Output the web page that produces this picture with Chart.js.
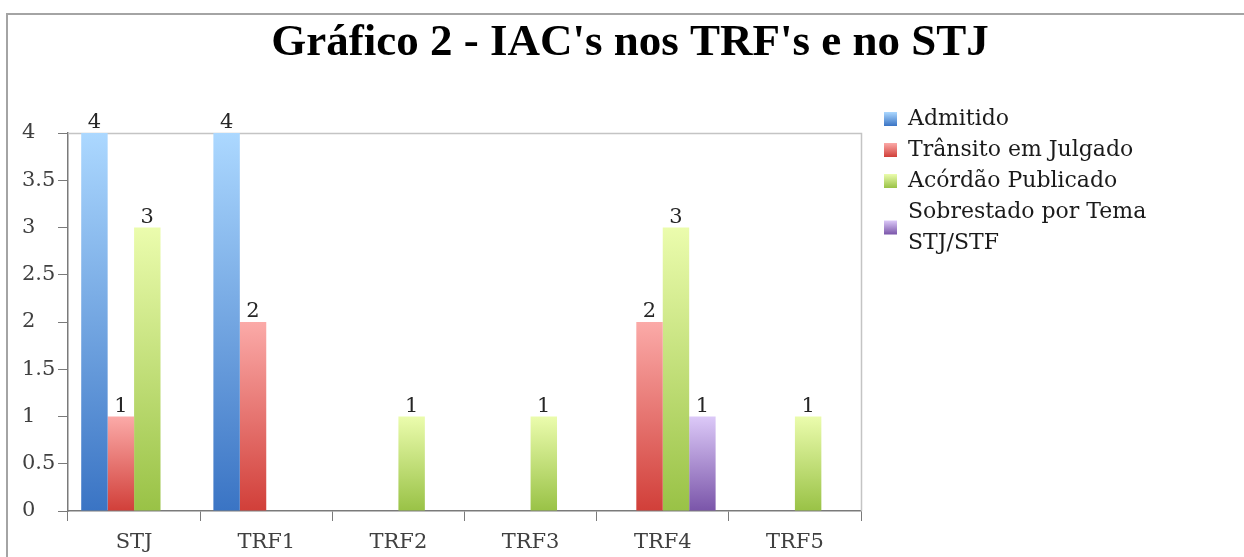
<!DOCTYPE html>
<html>
<head>
<meta charset="utf-8">
<title>Gráfico 2</title>
<script src="https://cdn.jsdelivr.net/npm/chart.js@4.4.1/dist/chart.umd.min.js"></script>
<style>
  body { margin: 0; background: #fff; }
  #wrap { position: relative; width: 1244px; height: 557px; overflow: hidden; }
  #frame { position: absolute; left: 6px; top: 13px; width: 1300px; height: 600px;
           border-top: 2px solid #a4a4a4; border-left: 2px solid #a4a4a4; }
  #box { position: absolute; left: 0; top: 0; width: 1244px; height: 557px; }
</style>
</head>
<body>
<div id="wrap">
  <div id="frame"></div>
  <div id="box"><canvas id="chart"></canvas></div>
</div>
<script>
const categories = ['STJ', 'TRF1', 'TRF2', 'TRF3', 'TRF4', 'TRF5'];
const admitido   = [4, 4, 0, 0, 0, 0];
const transito   = [1, 2, 0, 0, 2, 0];
const acordao    = [3, 0, 1, 1, 3, 1];
const sobrestado = [0, 0, 0, 0, 1, 0];
const seriesNames = ['Admitido', 'Trânsito em Julgado', 'Acórdão Publicado', ['Sobrestado por Tema', 'STJ/STF']];
const yTickLabels = ['0', '0.5', '1', '1.5', '2', '2.5', '3', '3.5', '4'];
const chartTitle = "Gráfico 2 - IAC's nos TRF's e no STJ";

// top / bottom colours of each bar's vertical gradient
const fills = [
  ['#acd8ff', '#3a74c4'],
  ['#fbaaa8', '#d13f39'],
  ['#ebfcad', '#99c246'],
  ['#dcc9f8', '#7a55a9']
];

const serif = '"DejaVu Serif", "Liberation Serif", serif';

function barFill(stops) {
  return (ctx) => {
    const y = ctx.chart.scales.y;
    const v = ctx.raw;
    if (!y || !v) return stops[1];
    const y0 = y.getPixelForValue(v);
    const y1 = y.getPixelForValue(0);
    if (!isFinite(y0) || !isFinite(y1) || y0 === y1) return stops[1];
    const g = ctx.chart.ctx.createLinearGradient(0, y0, 0, y1);
    g.addColorStop(0, stops[0]);
    g.addColorStop(1, stops[1]);
    return g;
  };
}

const extras = {
  id: 'extras',
  beforeDatasetsDraw(chart) {
    const { ctx, chartArea: a } = chart;
    ctx.save();
    ctx.strokeStyle = '#c4c4c4';
    ctx.lineWidth = 1.5;
    ctx.beginPath();
    ctx.moveTo(a.left, a.top + 0.5);
    ctx.lineTo(a.right + 0.5, a.top + 0.5);
    ctx.lineTo(a.right + 0.5, a.bottom);
    ctx.stroke();
    ctx.restore();
  },
  afterDraw(chart) {
    const ctx = chart.ctx;
    ctx.save();

    // title
    ctx.fillStyle = '#000';
    ctx.font = 'bold 45px "Liberation Serif", serif';
    ctx.textAlign = 'center';
    ctx.textBaseline = 'alphabetic';
    ctx.fillText(chartTitle, 630, 55);

    // value labels above each non-zero bar
    ctx.font = '21px ' + serif;
    ctx.fillStyle = '#262626';
    chart.data.datasets.forEach((ds, di) => {
      chart.getDatasetMeta(di).data.forEach((bar, i) => {
        if (!ds.data[i]) return;
        ctx.fillText(String(ds.data[i]), bar.x, bar.y - 5);
      });
    });

    // legend
    ctx.font = '22px ' + serif;
    ctx.textAlign = 'left';
    ctx.textBaseline = 'middle';
    let y = 119;
    seriesNames.forEach((name, si) => {
      const lines = Array.isArray(name) ? name : [name];
      const mid = y + (lines.length - 1) * 15.5;
      const g = ctx.createLinearGradient(0, mid - 7, 0, mid + 7);
      g.addColorStop(0, fills[si][0]);
      g.addColorStop(1, fills[si][1]);
      ctx.fillStyle = g;
      ctx.fillRect(884, mid - 7, 13, 14);
      ctx.fillStyle = '#1a1a1a';
      lines.forEach((ln, k) => ctx.fillText(ln, 908, y + k * 31));
      y += lines.length * 31;
    });
    ctx.restore();
  }
};

const seriesData = [admitido, transito, acordao, sobrestado];

new Chart(document.getElementById('chart'), {
  type: 'bar',
  data: {
    labels: categories,
    datasets: seriesData.map((d, i) => ({
      label: Array.isArray(seriesNames[i]) ? seriesNames[i].join(' ') : seriesNames[i],
      data: d,
      backgroundColor: barFill(fills[i]),
      borderWidth: 0,
      barPercentage: 1,
      categoryPercentage: 0.8
    }))
  },
  options: {
    responsive: true,
    maintainAspectRatio: false,
    animation: false,
    layout: { padding: { top: 133, right: 383, bottom: 0, left: 22 } },
    plugins: {
      legend: { display: false },
      title: { display: false },
      tooltip: { enabled: false }
    },
    scales: {
      x: {
        afterFit: (s) => { s.height = 46; },
        grid: { drawOnChartArea: false, drawTicks: true, tickLength: 10, color: '#7a7a7a', offset: true },
        border: { color: '#7a7a7a', width: 1.5 },
        ticks: { color: '#404040', padding: 9, font: { family: serif, size: 21 } }
      },
      y: {
        min: 0,
        max: 4,
        afterFit: (s) => { s.width = 46; },
        grid: { drawOnChartArea: false, drawTicks: true, tickLength: 10, color: '#7a7a7a' },
        border: { color: '#7a7a7a', width: 1.5 },
        ticks: {
          stepSize: 0.5,
          crossAlign: 'far',
          color: '#404040',
          font: { family: serif, size: 21 },
          callback: (value, index) => yTickLabels[index]
        }
      }
    }
  },
  plugins: [extras]
});
</script>
</body>
</html>
